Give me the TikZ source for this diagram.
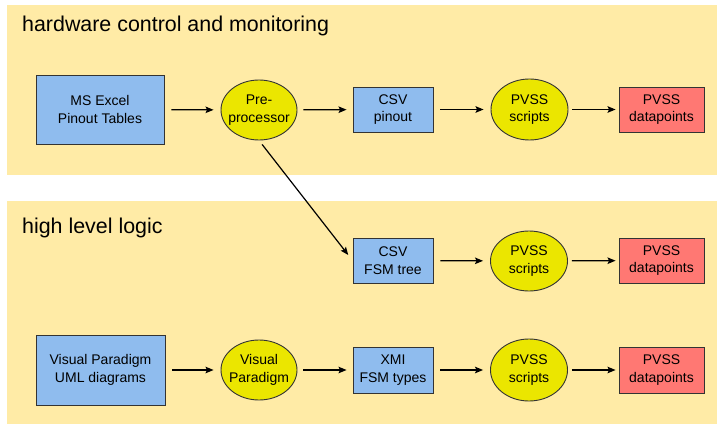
\documentclass[tikz,border=0pt]{standalone}
\usepackage{fontspec}
\setmainfont{Liberation Sans}
\usetikzlibrary{shapes.geometric,arrows.meta}
\definecolor{panel}{HTML}{FFEBA6}
\definecolor{boxblue}{HTML}{8FBCEE}
\definecolor{ellyellow}{HTML}{EBE600}
\definecolor{boxred}{HTML}{FF7873}
\definecolor{edge}{HTML}{333333}
\tikzset{
  panelbg/.style={fill=panel, draw=none},
  title/.style={anchor=base west, inner sep=0pt, font=\fontsize{21.4}{25}\selectfont},
  bluebox/.style={rectangle, draw=edge, line width=0.9pt, fill=boxblue, inner sep=0pt, align=center,
    font=\fontsize{14}{17.5}\selectfont},
  redbox/.style={bluebox, fill=boxred},
  ellshape/.style={ellipse, draw=edge, line width=0.9pt, fill=ellyellow, inner sep=0pt,
    minimum width=77pt, minimum height=61pt},
  elltext/.style={inner sep=0pt, align=center, font=\fontsize{14}{17.5}\selectfont},
  flow/.style={-{Stealth[length=8pt,width=6.5pt,inset=1.5pt]}, line width=1.2pt, black,
    shorten <=7pt, shorten >=7pt}
}
\begin{document}
\begin{tikzpicture}[x=1pt,y=-1pt]
\useasboundingbox (0,0) rectangle (717,425);
\fill[panelbg] (7,5) rectangle (717,175);
\fill[panelbg] (7,201) rectangle (717,424);
\node[title] (t1) at (22,32) {hardware control and monitoring};
\node[title] (t2) at (22,233) {high level logic};

% row 1
\node[bluebox, minimum width=128pt, minimum height=69pt] (xl) at (100,109.5) {MS Excel\\Pinout Tables};
\node[ellshape, minimum width=76pt, minimum height=60pt] (pre) at (259,110) {};
\node[elltext] (pret) at (pre.center) {Pre-\\processor};
\node[bluebox, minimum width=80pt, minimum height=45pt] (csv1) at (393,109.5) {CSV\\pinout};
\node[ellshape] (pv1) at (529.5,109.5) {};
\node[elltext] (pv1t) at (pv1.center) {PVSS\\scripts};
\node[redbox, minimum width=85pt, minimum height=45pt] (dp1) at (661.5,109.5) {PVSS\\datapoints};

% row 2
\node[bluebox, minimum width=80pt, minimum height=45pt] (csv2) at (393,260.5) {CSV\\FSM tree};
\node[ellshape, minimum height=60pt] (pv2) at (529,261) {};
\node[elltext] (pv2t) at (pv2.center) {PVSS\\scripts};
\node[redbox, minimum width=85pt, minimum height=45pt] (dp2) at (661.5,260.5) {PVSS\\datapoints};

% row 3
\node[bluebox, minimum width=129pt, minimum height=70pt] (uml) at (100.5,370) {Visual Paradigm\\UML diagrams};
\node[ellshape, minimum width=76pt, minimum height=60pt] (vp) at (259,370) {};
\node[elltext] (vpt) at (vp.center) {Visual\\Paradigm};
\node[bluebox, minimum width=80pt, minimum height=46pt] (xmi) at (393,370) {XMI\\FSM types};
\node[ellshape, minimum height=62pt] (pv3) at (529,370) {};
\node[elltext] (pv3t) at (pv3.center) {PVSS\\scripts};
\node[redbox, minimum width=85pt, minimum height=46pt] (dp3) at (661.5,370) {PVSS\\datapoints};

% arrows
\draw[flow] (xl) -- (pre);
\draw[flow, shorten <=6pt, shorten >=6pt] (pre) -- (csv1);
\draw[flow] (csv1) -- (pv1);
\draw[flow, shorten <=4pt, shorten >=3pt] (pv1) -- (dp1);
\draw[flow, shorten <=5pt] (pre.south) -- (csv2.west);
\draw[flow] (csv2) -- (pv2);
\draw[flow, shorten <=4pt, shorten >=3pt] (pv2) -- (dp2);
\draw[flow] (uml) -- (vp);
\draw[flow, shorten <=6pt, shorten >=6pt] (vp) -- (xmi);
\draw[flow] (xmi) -- (pv3);
\draw[flow, shorten <=4pt, shorten >=3pt] (pv3) -- (dp3);
\end{tikzpicture}
\end{document}
